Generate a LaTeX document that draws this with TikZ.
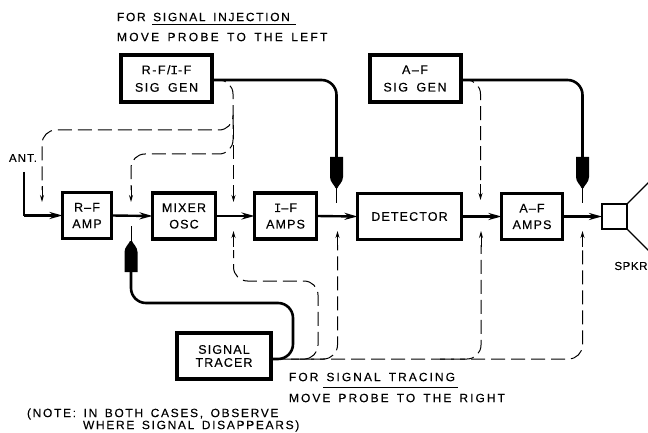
\documentclass[tikz,border=0pt]{standalone}
\usepackage{fontspec}
\usetikzlibrary{arrows.meta}
\newfontfamily\lab[LetterSpace=9,WordSpace=1.5,FakeBold=0.25]{Liberation Sans}
\newfontfamily\lag[LetterSpace=12,WordSpace=1.7,FakeBold=0.25]{Liberation Sans}
\newfontfamily\lat[LetterSpace=14,WordSpace=1.5,FakeBold=0.2]{Liberation Sans}
\newfontfamily\latb[LetterSpace=17,WordSpace=1.5,FakeBold=0.2]{Liberation Sans}
\newfontfamily\latc[LetterSpace=19,WordSpace=1.5,FakeBold=0.2]{Liberation Sans}
\newfontfamily\las[LetterSpace=5,FakeBold=0.2]{Liberation Sans}
\newfontfamily\lai[FakeBold=0.25]{Liberation Mono}
\tikzset{
  x=1pt,y=-1pt,
  blk/.style={draw=black,line width=3.2pt,inner sep=0pt,outer sep=0pt,align=center,font=\lab\fontsize{12.5}{16.5}\selectfont},
  genblk/.style={blk,line width=4pt,minimum width=91pt,minimum height=47pt,font=\lag\fontsize{12.5}{17.5}\selectfont},
  sig/.style={line width=2.4pt,-{Stealth[length=13pt,width=7pt]}},
  lead/.style={line width=2.6pt,rounded corners=15pt},
  dsh/.style={line width=1pt,dash pattern=on 14pt off 6pt,rounded corners=14pt},
  dtip/.style={line width=1pt,-{Stealth[length=7pt,width=4pt]}},
  lbl/.style={inner sep=0pt,outer sep=0pt,anchor=west,font=\lat\fontsize{12}{12}\selectfont},
  ul/.style={line width=1pt},
  probe/.pic={\fill (-6.5,0) -- (6.5,0) -- (6.5,20) .. controls (6.5,25) and (2,28) .. (1,31) -- (-1,31) .. controls (-2,28) and (-6.5,25) .. (-6.5,20) -- cycle;
    \draw[line width=1pt] (0,30) -- (0,46);}
}
\begin{document}
\begin{tikzpicture}
\useasboundingbox (0,0) rectangle (648,433);
\clip (0,0) rectangle (648,433);
% blocks
\node[genblk] (rfgen) at (166.5,78.5) {R-F/{\lai I}-F\\SIG GEN};
\node[genblk] (afgen) at (415,78.5) {A–F\\SIG GEN};
\node[blk,minimum width=49pt,minimum height=46pt] (rfamp) at (87,215.5) {R–F\\AMP};
\node[blk,minimum width=63pt,minimum height=46pt] (mixer) at (184,216) {MIXER\\OSC};
\node[blk,minimum width=62pt,minimum height=46pt] (ifamp) at (285.5,216) {{\lai I}–F\\AMPS};
\node[blk,minimum width=104pt,minimum height=46pt] (det) at (409.5,216.5) {DETECTOR};
\node[blk,minimum width=61pt,minimum height=46pt] (afamp) at (532,216.5) {A–F\\AMPS};
\node[draw,line width=1.2pt,inner sep=0pt,outer sep=0pt,minimum width=25pt,minimum height=25pt] (spk) at (614.5,216.5) {};
\node[blk,line width=4pt,minimum width=94pt,minimum height=46pt,font=\lab\fontsize{12.5}{13}\selectfont] (trc) at (224,356) {SIGNAL\\TRACER};
% speaker cone
\coordinate (c1) at (650,181);
\coordinate (c2) at (650,252);
\draw[line width=1.1pt] (spk.north east) -- (c1);
\draw[line width=1.1pt] (spk.south east) -- (c2);
% signal path
\coordinate (ant) at (24,172);
\coordinate (antc) at (24,215.5);
\draw[line width=2.4pt] (ant) -- (antc);
\draw[sig] (antc) -- (rfamp.west);
\draw[sig] (rfamp.east) -- (mixer.west);
\draw[sig] (mixer.east) -- (ifamp.west);
\draw[sig] (ifamp.east) -- (det.west);
\draw[sig] (det.east) -- (afamp.west);
\draw[sig] (afamp.east) -- (spk.west);
% probes
\coordinate (p1) at (336.5,157);
\coordinate (p2) at (582.5,157);
\coordinate (p3) at (131,272);
\pic at (p1) {probe};
\pic at (p2) {probe};
\pic[rotate=180] at (p3) {probe};
\draw[lead] (rfgen.east|-0,80) -- (336.5,80) -- (p1);
\draw[lead] (afgen.east|-0,80) -- (582.5,80) -- (p2);
\draw[lead] (p3) -- (131,303) -- (293,303) -- (293,359) -- (trc.east|-0,359);
% injection dashes
\coordinate (t1) at (42,202);
\coordinate (t2) at (131,202);
\coordinate (t3) at (233.5,202);
\coordinate (t4) at (480.5,200);
\draw[dsh] (rfgen.east|-0,80) -- (233,80) -- (233,130) -- (42,130) -- (42,190);
\draw[dtip] (42,186) -- (t1);
\draw[dsh] (233,115) -- (233,154) -- (131,154) -- (131,190);
\draw[dtip] (131,186) -- (t2);
\draw[dsh] (233,125) -- (233,190);
\draw[dtip] (233.5,186) -- (t3);
\draw[dsh] (afgen.east|-0,80) -- (480.5,80) -- (480.5,185);
\draw[dtip] (480.5,184) -- (t4);
% tracing dashes
\coordinate (u1) at (233.5,231);
\coordinate (u2) at (337.5,231);
\coordinate (u3) at (481,231);
\coordinate (u4) at (582.5,231);
\draw[dsh] (trc.east|-0,359) -- (582.5,359) -- (582.5,245);
\draw[dtip] (582.5,247) -- (u4);
\draw[dsh] (440,359) -- (481,359) -- (481,245);
\draw[dtip] (481,247) -- (u3);
\draw[dsh] (300,359) -- (337.5,359) -- (337.5,245);
\draw[dtip] (337.5,247) -- (u2);
\draw[dsh] (285,359) -- (318,359) -- (318,281) -- (233.5,281) -- (233.5,250);
\draw[dtip] (233.5,247) -- (u1);
% labels
\node[lbl] (l1) at (117,17) {FOR SIGNAL INJECTION};
\node[lbl,font=\latc\fontsize{12}{12}\selectfont] (l2) at (117,37) {MOVE PROBE TO THE LEFT};
\node[lbl,font=\latb\fontsize{12}{12}\selectfont] (l3) at (289,377) {FOR SIGNAL TRACING};
\node[lbl,font=\latb\fontsize{12}{12}\selectfont] (l4) at (289,398) {MOVE PROBE TO THE RIGHT};
\node[lbl] (l5) at (27,414) {(NOTE: IN BOTH CASES, OBSERVE};
\node[lbl] (l6) at (83,426) {WHERE SIGNAL DISAPPEARS)};
\node[lbl,font=\lab\fontsize{11.5}{12}\selectfont] (l7) at (9,158) {ANT.};
\node[lbl,anchor=east,font=\las\fontsize{11.5}{12}\selectfont] (l8) at (647.5,266) {SPKR};
\coordinate (ua) at (152,25);
\coordinate (ub) at (296,25);
\coordinate (uc) at (323,387);
\coordinate (ud) at (458,387);
\draw[ul] (ua) -- (ub);
\draw[ul] (uc) -- (ud);
\end{tikzpicture}
\end{document}
